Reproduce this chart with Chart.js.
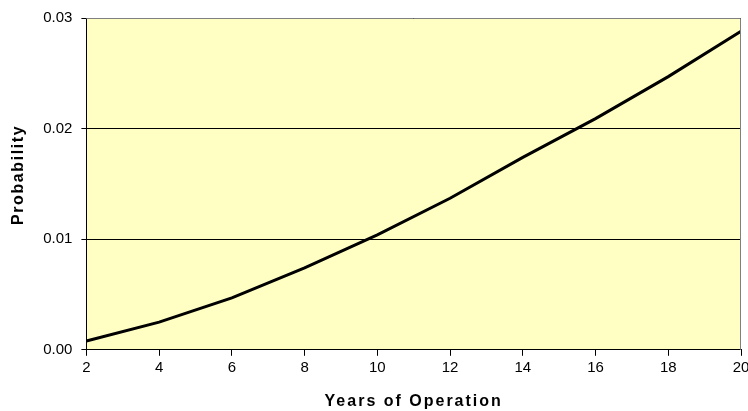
<!DOCTYPE html>
<html lang="en">
<head>
    <meta charset="UTF-8">
    <title>Probability vs Years of Operation</title>
    <script src="https://cdn.jsdelivr.net/npm/chart.js@4"></script>
</head>
<body style="margin:0;background:#fff;">
    <canvas id="chart" width="748" height="411"></canvas>
    <script>
        // data
        const years = [2, 4, 6, 8, 10, 12, 14, 16, 18, 20];
        const probability = [0.0008, 0.0025, 0.0047, 0.0074, 0.0104, 0.0137, 0.0174, 0.0209, 0.0247, 0.0288];
        const yTicks = [0, 0.01, 0.02, 0.03];

        // the original text is stretched sideways, so add some letter spacing
        const tickSpacing = '1.6px';
        const titleStyle = { x: { spacing: '2px', dy: 3 }, y: { spacing: '1.6px', dy: -9 } };

        // yellow plot area with grey frame (Excel style)
        const plotArea = {
            id: 'plotArea',
            afterLayout(chart) {
                Object.values(chart.scales).forEach(s => {
                    if (s._wrapped) return;
                    const origDraw = s.draw;
                    const origTitle = s.drawTitle;
                    const st = titleStyle[s.id];
                    s.draw = function (area) {
                        this.ctx.save();
                        this.ctx.letterSpacing = tickSpacing;
                        origDraw.call(this, area);
                        this.ctx.restore();
                    };
                    s.drawTitle = function (area) {
                        this.ctx.save();
                        this.ctx.letterSpacing = st.spacing;
                        this.ctx.translate(0, st.dy);
                        origTitle.call(this, area);
                        this.ctx.restore();
                    };
                    s._wrapped = true;
                });
            },
            beforeDraw(chart) {
                const { ctx, chartArea: a } = chart;
                ctx.save();
                ctx.fillStyle = '#FFFFC4';
                ctx.fillRect(a.left, a.top, a.right - a.left, a.bottom - a.top);
                ctx.restore();
            },
            afterDatasetsDraw(chart) {
                const { ctx, chartArea: a } = chart;
                ctx.save();
                ctx.strokeStyle = '#808080';
                ctx.lineWidth = 1;
                ctx.beginPath();
                ctx.moveTo(a.left, a.top + 0.5);
                ctx.lineTo(a.right - 0.5, a.top + 0.5);
                ctx.lineTo(a.right - 0.5, a.bottom);
                ctx.stroke();
                ctx.restore();
            }
        };

        Chart.defaults.font.family = '"Liberation Sans", Arial, sans-serif';
        Chart.defaults.color = '#000';

        new Chart(document.getElementById('chart'), {
            type: 'line',
            data: {
                datasets: [{
                    data: years.map((x, i) => ({ x: x, y: probability[i] })),
                    borderColor: '#000',
                    borderWidth: 3,
                    pointRadius: 0,
                    tension: 0,
                    fill: false
                }]
            },
            options: {
                responsive: false,
                animation: false,
                layout: { padding: { top: 3, left: 9, right: 0, bottom: 3 } },
                plugins: { legend: { display: false }, tooltip: { enabled: false } },
                scales: {
                    x: {
                        type: 'linear',
                        min: 2,
                        max: 20,
                        afterFit: (s) => { s.paddingRight = 7; },
                        ticks: { stepSize: 2, font: { size: 15 }, padding: 3, maxRotation: 0 },
                        grid: { drawOnChartArea: false, tickLength: 6, color: '#000' },
                        border: { color: '#000', width: 1 },
                        title: { display: true, text: 'Years of Operation', font: { size: 16, weight: 'bold' }, padding: { top: 9, bottom: 0 } }
                    },
                    y: {
                        min: 0,
                        max: 0.03,
                        afterBuildTicks: (s) => { s.ticks = yTicks.map(v => ({ value: v })); },
                        ticks: { font: { size: 15 }, padding: 9, callback: (v) => v.toFixed(2) },
                        grid: { color: '#000', tickLength: 5 },
                        border: { color: '#000', width: 1 },
                        title: { display: true, text: 'Probability', font: { size: 16, weight: 'bold' }, padding: { top: 0, bottom: 6 } }
                    }
                }
            },
            plugins: [plotArea]
        });
    </script>
</body>
</html>
